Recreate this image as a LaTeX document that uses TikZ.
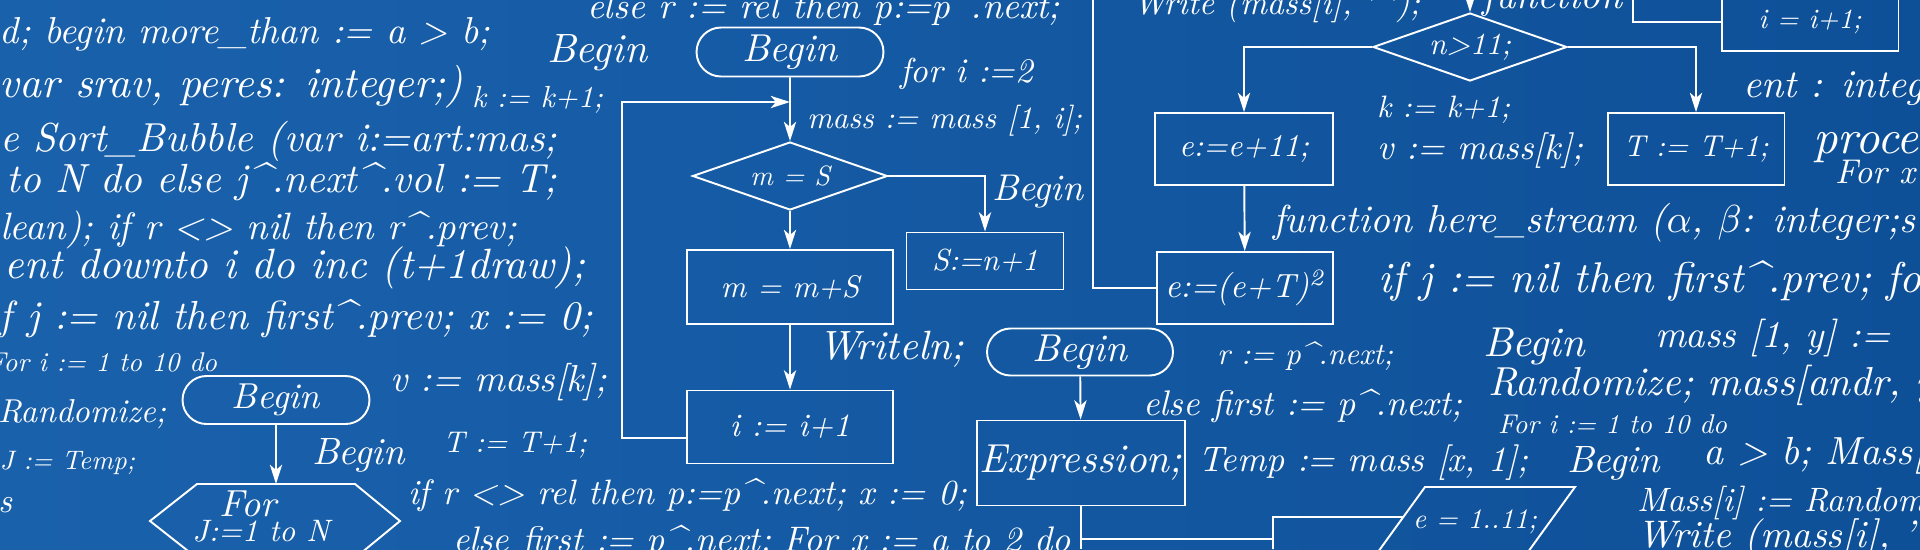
\documentclass[tikz,border=0pt]{standalone}
\usepackage{fontspec}
\usepackage{graphicx}
\usetikzlibrary{calc,positioning,arrows.meta,shapes.geometric,shapes.misc}
\definecolor{boardL}{RGB}{26,97,172}
\definecolor{boardR}{RGB}{14,80,152}
\newlength\pxu
\setlength\pxu{0.02cm}
\newcommand\tw[2]{\resizebox{#1\pxu}{!}{#2}}
\newcommand\ptr{\textasciicircum}
\tikzset{
  chalk/.style={draw=white, line width=1.1pt},
  flow arrow/.style={chalk, -{Stealth[length=11pt,width=7pt,inset=3pt]}},
  code/.style={text=white, font=\itshape, anchor=base west, inner sep=0pt, outer sep=0pt},
  label/.style={text=white, font=\itshape, inner sep=0pt},
  opbox/.style={chalk, rectangle, inner sep=0pt, text=white, font=\itshape},
  terminal/.style={chalk, rounded rectangle, inner sep=0pt, text=white, font=\itshape},
  decision/.style={chalk, diamond, shape aspect=2.85, inner sep=0pt, text=white, font=\itshape}
}

\begin{document}
\begin{tikzpicture}[x=0.02cm,y=-0.02cm]

  \useasboundingbox (0,0) rectangle (1920,549);
  \clip (0,0) rectangle (1920,549);
  \shade[left color=boardL, right color=boardR] (0,0) rectangle (1920,549);

  \coordinate (edge_low) at (0,549);
  \coordinate (loop_low) at (0,438);
  \coordinate (branch_y) at (0,539);

  \node [terminal, minimum width=3.74cm, minimum height=0.98cm] at(790,52) (begin_main) {\tw{95}{Begin}};
  \node [decision, minimum width=3.9cm, minimum height=1.36cm] at(790,176) (cond_ms) {\tw{80}{m = S}};
  \node [opbox, minimum width=4.12cm, minimum height=1.48cm] at(790,287) (op_msum) {\tw{139}{m = m+S}};
  \node [opbox, minimum width=4.12cm, minimum height=1.46cm] at(790,427) (op_inc) {\tw{120}{i := i+1}};
  \node [opbox, minimum width=3.14cm, minimum height=1.14cm] at(985,261) (op_sn) {\tw{106}{S:=n+1}};
  \coordinate (loop_in) at (790,102);
  \coordinate (loop_turn) at (622,102);

  \draw[flow arrow] (begin_main) -- (cond_ms);
  \draw[flow arrow] (cond_ms) -- (op_msum);
  \draw[flow arrow] (op_msum) -- (op_inc);
  \draw[flow arrow] (cond_ms.east) -| (op_sn.north);
  \draw[flow arrow] (op_inc.west |- loop_low) -| (loop_turn) -- (loop_in);

  \node [opbox, minimum width=3.56cm, minimum height=1.44cm] at(1244,149) (op_e11) {\tw{130}{e:=e+11;}};
  \node [opbox, minimum width=3.52cm, minimum height=1.44cm] at(1245,288) (op_esq) {\tw{160}{e:=(e+T)\textsuperscript{2}}};
  \node [decision, minimum width=3.88cm, minimum height=1.36cm] at(1470,47) (cond_n) {\tw{82}{n>11;}};
  \node [opbox, minimum width=3.54cm, minimum height=1.44cm] at(1696,149) (op_t) {\tw{145}{T := T+1;}};
  \node [opbox, minimum width=3.54cm, minimum height=1.16cm] at(1810,22) (op_i2) {\tw{103}{i = i+1;}};
  \coordinate (rail_top) at (1093,0);
  \coordinate (cond_in) at (1470,0);
  \coordinate (inc_top) at (1633,0);

  \draw[chalk] (rail_top) |- (op_esq.west);
  \draw[flow arrow] (cond_in) -- (cond_n);
  \draw[flow arrow] (cond_n.west) -| (op_e11.north);
  \draw[flow arrow] (cond_n.east) -| (op_t.north);
  \draw[flow arrow] (op_e11) -- (op_esq);
  \draw[chalk] (inc_top) |- (op_i2.west);

  \node [terminal, minimum width=3.72cm, minimum height=0.94cm] at(1080,352) (begin_expr) {\tw{95}{Begin}};
  \node [opbox, minimum width=4.16cm, minimum height=1.7cm] at(1081,463) (op_expr) {\tw{202}{Expression;}};
  \coordinate (par_nw) at (1425,487);
  \coordinate (par_ne) at (1575,487);
  \coordinate (par_se) at (1520,563);
  \coordinate (par_sw) at (1370,563);
  \coordinate (sub_sw) at (1273,549);
  \coordinate (sub_nw) at (1273,517);

  \draw[flow arrow] (begin_expr) -- (op_expr);
  \draw[chalk] (op_expr.south) -- (op_expr.south |- edge_low);
  \draw[chalk] (op_expr.south |- branch_y) -- (sub_sw |- branch_y);
  \draw[chalk] (sub_sw) -- (sub_nw) -- ($(par_nw)!0.395!(par_sw)$);
  \draw[chalk] (par_nw) -- (par_ne) -- (par_se) -- (par_sw) -- cycle;
  \node [label] at(1475,522) (par_text) {\tw{124}{e = 1..11;}};

  \node [terminal, minimum width=3.74cm, minimum height=0.96cm] at(276,400) (begin_loop) {\tw{88}{Begin}};
  \coordinate (hex_top) at (276,484);
  \draw[chalk] (197,484) -- (355,484) -- (400,521) -- (355,558) -- (197,558) -- (150,521) -- cycle;
  \draw[flow arrow] (begin_loop) -- (hex_top);
  \node [label] at(248,504) (hex_for) {\tw{57}{For}};
  \node [label] at(261,531) (hex_range) {\tw{137}{J:=1 to N}};

  \foreach [count=\n] \cx/\cy/\cw/\ctext in {
    0/43/490/{d; begin more\_than := a > b;},
    0/97/463/{var srav, peres: integer;)},
    472/107/131/{k := k+1;},
    0/151/557/{e Sort\_Bubble (var i:=art:mas;},
    7/192/550/{to N do else j\ptr.next\ptr.vol := T;},
    0/239/517/{lean); if r <> nil then r\ptr.prev;},
    5/278/580/{ent downto i do inc (t+1draw);},
    0/329/593/{f j := nil then first\ptr.prev; x := 0;},
    -12/371/229/{For i := 1 to 10 do},
    -2/422/168/{Randomize;},
    0/469/135/{J := Temp;},
    -2/512/14/{s},
    587/18/473/{else r := rel then p:=p\ptr.next;},
    547/62/100/{Begin},
    900/82/133/{for i :=2},
    807/128/275/{mass := mass [1, i];},
    992/200/91/{Begin},
    818/359/146/{Writeln;},
    390/391/217/{v := mass[k];},
    443/452/144/{T := T+1;},
    312/464/93/{Begin},
    408/504/559/{if r <> rel then p:=p\ptr.next; x := 0;},
    453/551/618/{else first := p\ptr.next; For x := a to 2 do},
    1133/14/287/{Write (mass[i], ' ');},
    1482/8/140/{function},
    1377/117/133/{k := k+1;},
    1377/159/206/{v := mass[k];},
    1743/97/215/{ent : integer},
    1813/153/193/{procedure},
    1835/183/80/{For x},
    1273/232/642/{function here\_stream ($\alpha$, $\beta$: integer;s},
    1378/292/562/{if j := nil then first\ptr.prev; for},
    1217/364/176/{r := p\ptr.next;},
    1143/415/319/{else first := p\ptr.next;},
    1198/471/330/{Temp := mass [x, 1];},
    1483/356/102/{Begin},
    1655/347/235/{mass [1, y] :=},
    1488/395/447/{Randomize; mass[andr, y},
    1498/433/229/{For i := 1 to 10 do},
    1567/472/93/{Begin},
    1703/464/222/{a > b; Mass[},
    1637/511/288/{Mass[i] := Random},
    1637/547/345/{Write (mass[i], ' ');}
  }
  {
    \node [code] at(\cx,\cy) (code_\n) {\tw{\cw}{\ctext}};
  }

\end{tikzpicture}
\end{document}
